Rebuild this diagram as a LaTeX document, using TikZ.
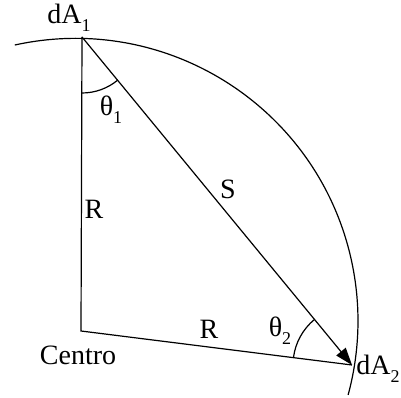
\documentclass[tikz,border=0pt]{standalone}
\usepackage{fontspec}
\setmainfont{Liberation Serif}
\usetikzlibrary{arrows.meta}
\newcommand\lowsub[1]{\raisebox{-0.28em}{\fontsize{13.5}{14}\selectfont #1}}
\begin{document}
\begin{tikzpicture}[x=0.75pt,y=-0.75pt,
  lbl/.style={inner sep=0pt,font=\fontsize{21}{25}\selectfont},
  ln/.style={line width=0.9pt,black}]
\useasboundingbox (0,0) rectangle (401,398);
% points
\coordinate (C) at (81,331);
\coordinate (A1) at (82,37);
\coordinate (A2) at (352,365);
\coordinate (O) at (75.5,320.9);
% circle arc (y axis points down, so angles are mirrored)
\draw[ln] (O) ++(-102.4:282.5) arc[start angle=-102.4,end angle=15.2,radius=282.5];
% triangle
\draw[ln] (A1) -- (C) -- (A2);
\draw[ln,-{Triangle[length=13pt,width=9pt]}] (A1) -- (A2);
% angle arcs
\draw[ln] (A1) ++(90:56) arc[start angle=90,end angle=50.5,radius=56];
\draw[ln] (A2) ++(-172.8:59) arc[start angle=-172.8,end angle=-129.5,radius=59];
% labels
\node[lbl] (l1) at (69,18) {dA\lowsub{1}};
\node[lbl] (l2) at (378,369) {dA\lowsub{2}};
\node[lbl] (t1) at (111,110) {θ\lowsub{1}};
\node[lbl] (t2) at (280,331) {θ\lowsub{2}};
\node[lbl] (s) at (228,189) {S};
\node[lbl] (r1) at (94,209) {R};
\node[lbl] (r2) at (209,329) {R};
\node[lbl] (c) at (78,355) {Centro};
\end{tikzpicture}
\end{document}
